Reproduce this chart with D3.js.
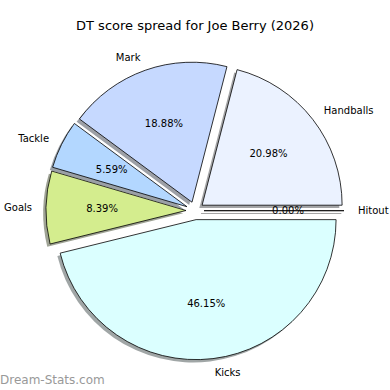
<!DOCTYPE html>
<html>
<head>
<meta charset="utf-8">
<style>
  html, body { margin: 0; padding: 0; background: #fff; }
  svg { display: block; }
</style>
<script src="https://d3js.org/d3.v7.min.js"></script>
</head>
<body>
<svg width="390" height="390" font-family="DejaVu Sans, sans-serif"></svg>
<script>
// data (order = matplotlib draw order, ccw from east)
var categories = ["Hitout", "Handballs", "Mark", "Tackle", "Goals", "Kicks"];
var values = [0, 20.98, 18.88, 5.59, 8.39, 46.15];
var colors = ["#ffffff", "#ebf2ff", "#c6d9ff", "#b3d7ff", "#d4ed8e", "#dbffff"];
var title = "DT score spread for Joe Berry (2026)";

var svg = d3.select("svg"),
    cx = 195, cy = 210.7,
    r = 140,
    explode = 9,
    shadowOff = 0.02 * r;

var pie = d3.pie()
    .sort(null)
    .value(function(d) { return d; })
    .startAngle(Math.PI / 2)
    .endAngle(Math.PI / 2 - 2 * Math.PI);

var arc = d3.arc().innerRadius(0).outerRadius(r);

var slices = pie(values).map(function(d, i) {
  var mid = (d.startAngle + d.endAngle) / 2;
  return {
    arc: d, i: i, mid: mid,
    ux: Math.sin(mid), uy: -Math.cos(mid)
  };
});

var g = svg.append("g").attr("transform", "translate(" + cx + "," + cy + ")");

function shadowColor(c) {
  var rgb = d3.rgb(c);
  return d3.rgb(255 - 0.5 * (255 - 0.3 * rgb.r),
                255 - 0.5 * (255 - 0.3 * rgb.g),
                255 - 0.5 * (255 - 0.3 * rgb.b)).formatHex();
}

// shadows under everything
g.selectAll(".shadow")
  .data(slices)
  .enter().append("path")
    .attr("class", "shadow")
    .attr("transform", function(d) {
      return "translate(" + (d.ux * explode - shadowOff) + "," + (d.uy * explode + shadowOff) + ")";
    })
    .attr("d", function(d) { return arc(d.arc); })
    .attr("fill", function(d) { return shadowColor(colors[d.i]); })
    .attr("stroke", function(d) { return d.arc.value === 0 ? shadowColor(colors[d.i]) : "none"; })
    .attr("stroke-width", 1);

g.selectAll(".wedge")
  .data(slices)
  .enter().append("path")
    .attr("class", "wedge")
    .attr("transform", function(d) {
      return "translate(" + (d.ux * explode) + "," + (d.uy * explode) + ")";
    })
    .attr("d", function(d) { return arc(d.arc); })
    .attr("fill", function(d) { return colors[d.i]; })
    .attr("stroke", "#000")
    .attr("stroke-width", 0.8)
    .attr("stroke-linejoin", "miter");

// category labels
g.selectAll(".lbl")
  .data(slices)
  .enter().append("text")
    .attr("class", "lbl")
    .attr("x", function(d) { return d.ux * (1.1 * r + explode); })
    .attr("y", function(d) { return d.uy * (1.1 * r + explode); })
    .attr("text-anchor", function(d) { return d.ux > 0 ? "start" : "end"; })
    .attr("dominant-baseline", "central")
    .attr("font-size", 10)
    .attr("fill", "#000")
    .text(function(d) { return categories[d.i]; });

// percentage labels
g.selectAll(".pct")
  .data(slices)
  .enter().append("text")
    .attr("class", "pct")
    .attr("x", function(d) { return d.ux * (0.6 * r + explode); })
    .attr("y", function(d) { return d.uy * (0.6 * r + explode); })
    .attr("text-anchor", "middle")
    .attr("dominant-baseline", "central")
    .attr("font-size", 10)
    .attr("fill", "#000")
    .text(function(d) { return d3.format(".2f")(d.arc.value) + "%"; });

svg.append("text")
    .attr("x", 195)
    .attr("y", 25)
    .attr("text-anchor", "middle")
    .attr("dominant-baseline", "central")
    .attr("font-size", 13)
    .text(title);

svg.append("text")
    .attr("x", 0)
    .attr("y", 380)
    .attr("dominant-baseline", "central")
    .attr("font-size", 12)
    .attr("fill", "#999")
    .text("Dream-Stats.com");
</script>
</body>
</html>
